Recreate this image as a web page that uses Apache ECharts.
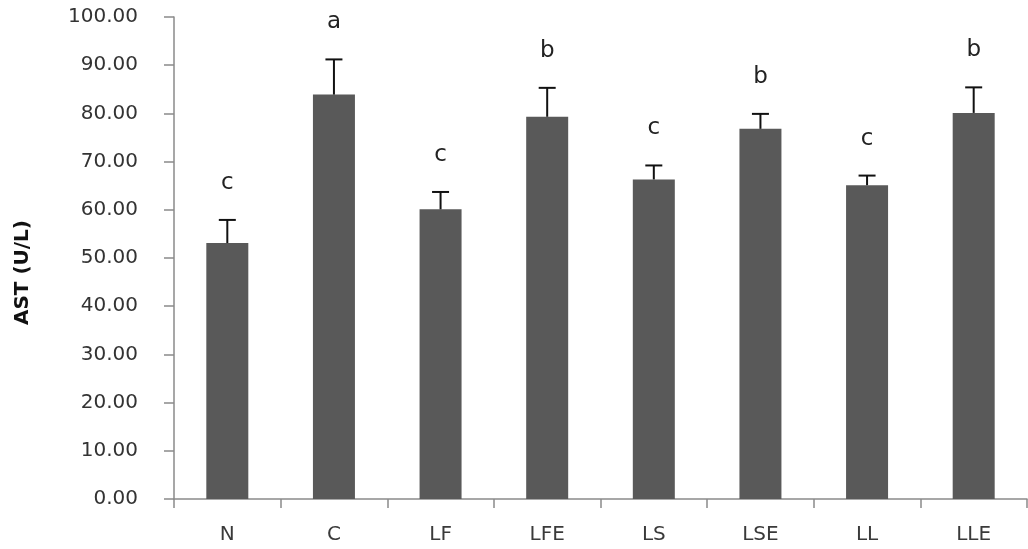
<!DOCTYPE html>
<html>
<head>
<meta charset="utf-8">
<script src="https://cdn.jsdelivr.net/npm/echarts@6/dist/echarts.min.js"></script>
<style>
  html, body { margin: 0; padding: 0; background: #ffffff; }
  #chart { width: 1028px; height: 549px; }
</style>
</head>
<body>
<div id="chart"></div>
<script>
// Groups, mean AST values, standard deviations and significance letters
const categories = ['N', 'C', 'LF', 'LFE', 'LS', 'LSE', 'LL', 'LLE'];
const meanValues = [53.1, 83.9, 60.1, 79.3, 66.3, 76.8, 65.1, 80.1];
const sdValues = [4.8, 7.3, 3.6, 6.0, 2.9, 3.1, 2.0, 5.3];
const groupLetters = ['c', 'a', 'c', 'b', 'c', 'b', 'c', 'b'];
const yTicks = { min: 0, max: 100, interval: 10 };

const errorData = categories.map((c, i) => [i, meanValues[i], meanValues[i] + sdValues[i], groupLetters[i]]);

const chart = echarts.init(document.getElementById('chart'), null, { renderer: 'canvas' });

const axisColor = '#8a8a8a';
const labelFont = '"DejaVu Sans", Verdana, sans-serif';

chart.setOption({
  animation: false,
  backgroundColor: '#ffffff',
  grid: { left: 174, right: 1, top: 17, bottom: 50 },
  xAxis: {
    type: 'category',
    data: categories,
    boundaryGap: true,
    axisLine: { lineStyle: { color: axisColor, width: 1.5 } },
    axisTick: { show: true, length: 9, inside: false, lineStyle: { color: axisColor, width: 1.5 } },
    axisLabel: { color: '#3a3a3a', fontSize: 20, fontFamily: labelFont, margin: 26 },
    splitLine: { show: false }
  },
  yAxis: {
    type: 'value',
    min: yTicks.min,
    max: yTicks.max,
    interval: yTicks.interval,
    axisLine: { show: true, lineStyle: { color: axisColor, width: 1.5 } },
    axisTick: { show: true, length: 10, lineStyle: { color: axisColor, width: 1.5 } },
    axisLabel: {
      color: '#333333', fontSize: 20, fontFamily: labelFont, margin: 36,
      formatter: v => v.toFixed(2)
    },
    splitLine: { show: false }
  },
  graphic: [{
    type: 'text',
    left: 13,
    top: 220,
    style: {
      text: 'AST (U/L)',
      fontSize: 20,
      fontWeight: 'bold',
      fontFamily: labelFont,
      fill: '#111111'
    },
    rotation: Math.PI / 2,
    originX: 0, originY: 0
  }],
  series: [
    {
      type: 'bar',
      data: meanValues,
      barWidth: 42,
      itemStyle: { color: '#595959' },
      z: 2
    },
    {
      type: 'custom',
      data: errorData,
      z: 3,
      renderItem: function (params, api) {
        const i = api.value(0);
        const base = api.coord([i, api.value(1)]);
        const top = api.coord([i, api.value(2)]);
        const half = 8.5;
        return {
          type: 'group',
          children: [
            { type: 'line', shape: { x1: top[0], y1: base[1], x2: top[0], y2: top[1] },
              style: { stroke: '#111111', lineWidth: 2 } },
            { type: 'line', shape: { x1: top[0] - half, y1: top[1], x2: top[0] + half, y2: top[1] },
              style: { stroke: '#111111', lineWidth: 2 } },
            { type: 'text', x: top[0], y: top[1] - 37,
              style: { text: groupLetters[i], fontSize: 23, fontFamily: labelFont, fill: '#222222',
                       align: 'center', verticalAlign: 'middle' } }
          ]
        };
      }
    }
  ]
});
</script>
</body>
</html>
